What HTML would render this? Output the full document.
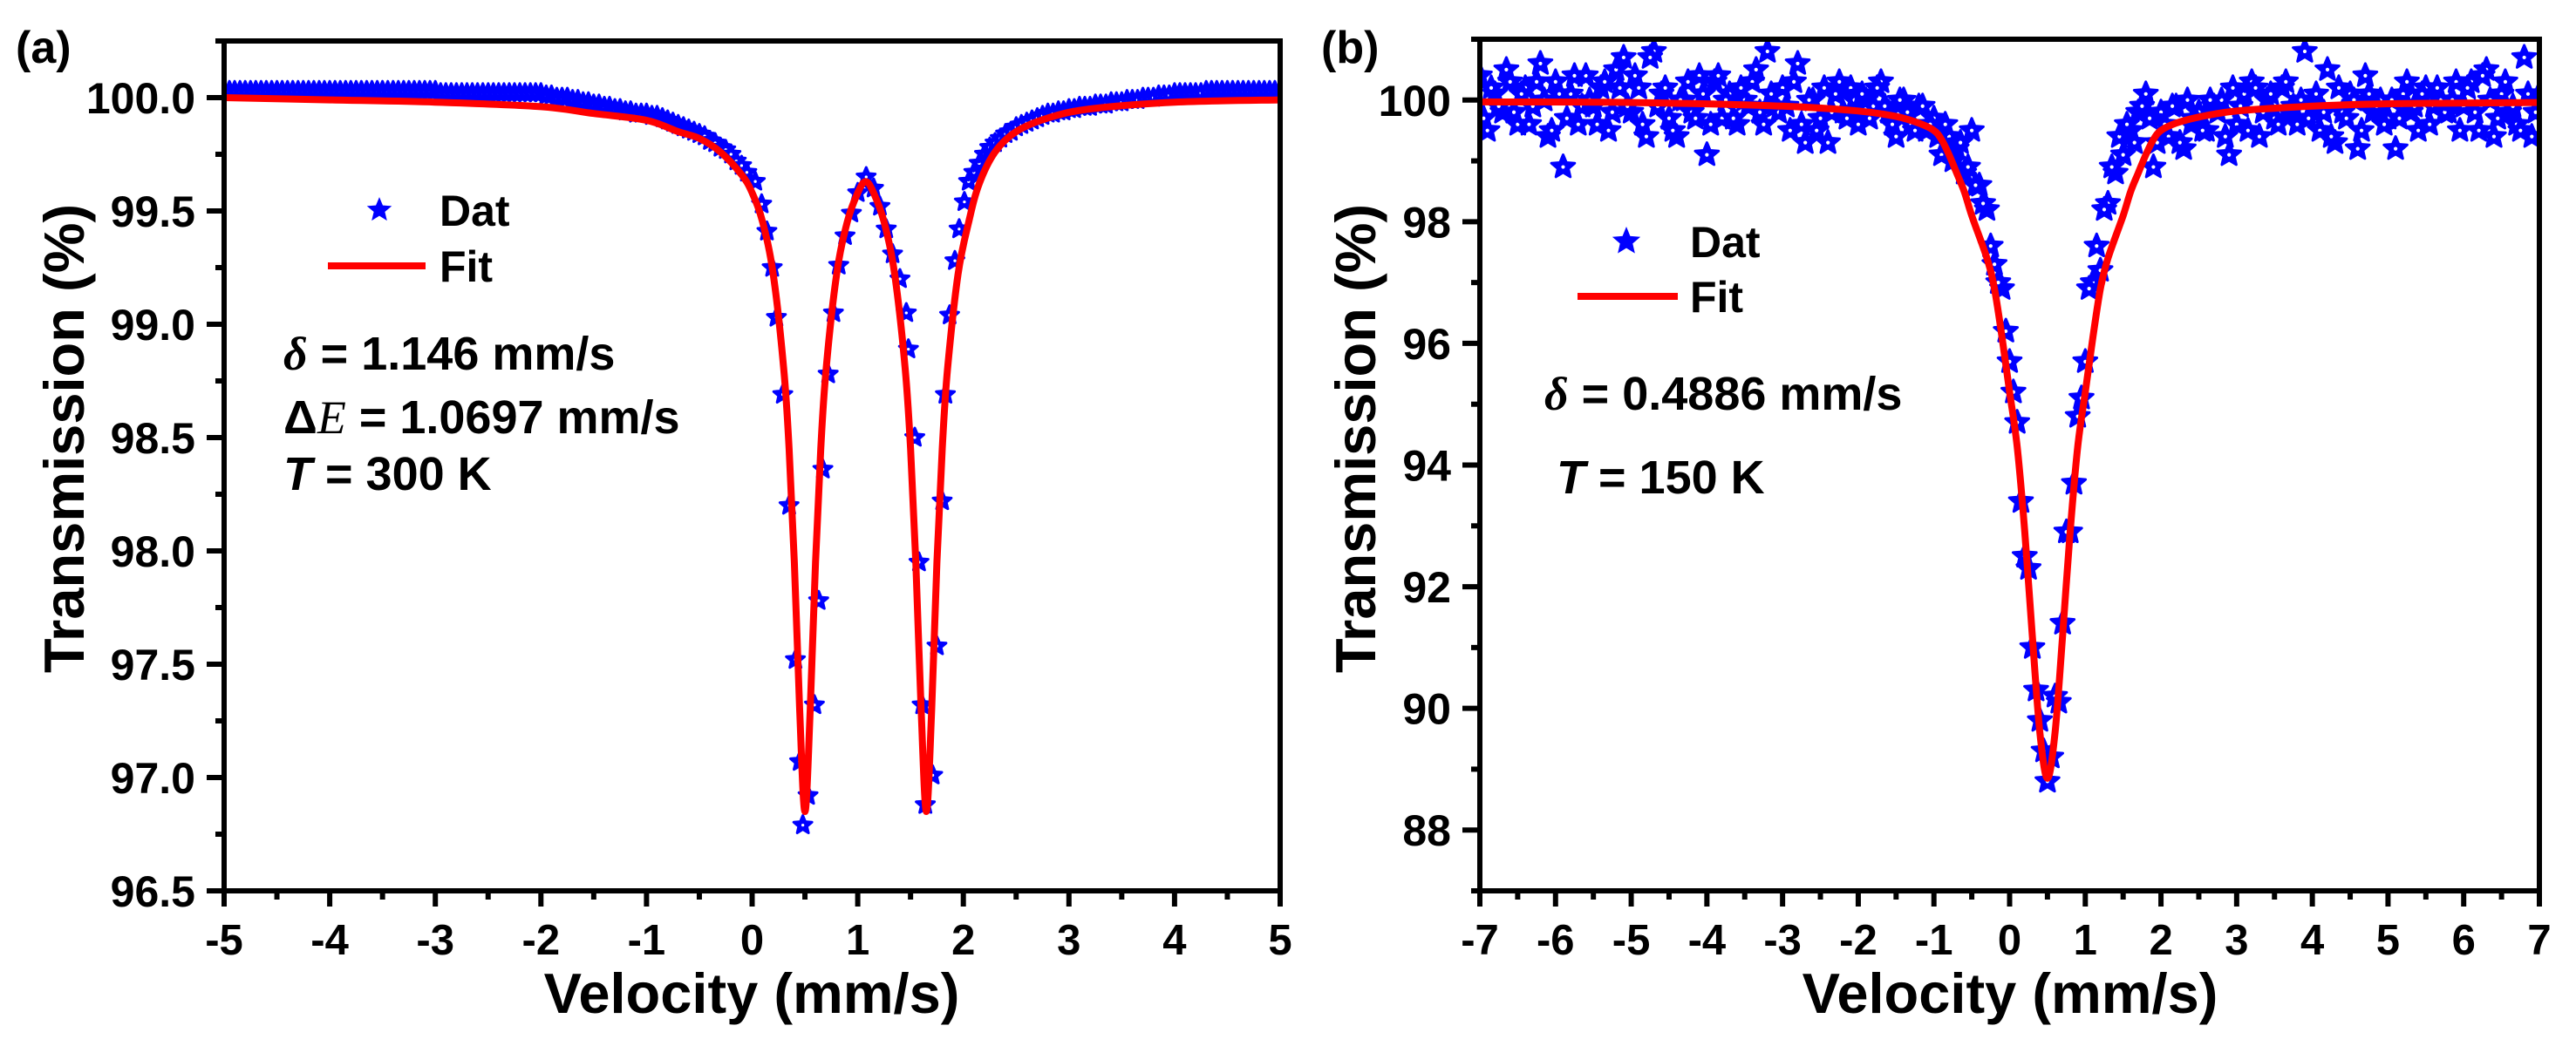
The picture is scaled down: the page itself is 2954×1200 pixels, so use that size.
<!DOCTYPE html>
<html><head><meta charset="utf-8"><style>
html,body{margin:0;padding:0;background:#fff;}
svg{display:block;font-family:"Liberation Sans",Arial,sans-serif;font-weight:bold;}
</style></head><body>
<svg id="chart" width="2954" height="1200" viewBox="0 0 2954 1200" xmlns="http://www.w3.org/2000/svg">
<rect width="2954" height="1200" fill="#fff"/>
<g id="pa"></g>
<g id="pb"></g>
</svg>
<script>
// ---------- Panel (a) data ----------
const aLeftTailT = [100.03,100.03,100.03,100.03,100.03,100.03,100.03,100.03,100.03,100.03,100.03,100.03,100.03,100.03,100.03,100.03,100.03,100.03,100.03,100.03,100.03,100.03,100.03,100.03,100.03,100.03,100.03,100.03,100.03,100.03,100.03,100.03,100.03,100.03,100.03,100.03,100.03,100.03,100.03,100.03,100.03,
 100.02,100.02,100.02,100.02,100.02,100.02,100.02,100.02,100.02,100.02,100.02,100.02,100.02,100.02,100.02,100.02,100.02,100.02,100.02,100.02,
 100.01,100.01,100.0,100.0,100.0,99.99,99.99,99.98,99.98,99.97,99.97,99.96,99.96,99.95,99.95,99.94,99.94,99.93,99.93,99.93,
 99.92,99.92,99.91,99.90,99.89,99.88,99.87,99.86,99.85,99.84,99.83,99.81,99.80,99.78,99.77,99.75,99.72,99.70,99.67];
const aDipV = [0.03,0.09,0.14,0.19,0.23,0.29,0.35,0.41,0.45,0.48,0.53,0.59,0.63,0.67,0.72,0.77,0.82,0.88,0.94,1.0,1.08,1.15,1.21,1.27,1.33,1.40,1.46,1.48,1.54,1.58,1.61,1.64,1.71,1.75,1.80,1.83,1.87,1.92,1.96,2.01,2.05];
const aDipT = [99.63,99.53,99.41,99.25,99.03,98.69,98.20,97.52,97.07,96.79,96.92,97.32,97.78,98.36,98.78,99.05,99.26,99.39,99.49,99.58,99.65,99.60,99.52,99.42,99.31,99.20,99.05,98.89,98.50,97.95,97.32,96.88,97.01,97.58,98.22,98.69,99.04,99.28,99.42,99.54,99.63];
const aRightTailT = [99.67,99.71,99.75,99.78,99.80,99.82,99.84,99.85,99.87,99.88,99.89,99.90,99.91,99.92,99.93,99.93,99.94,99.94,99.95,
 99.95,99.96,99.96,99.96,99.97,99.97,99.97,99.98,99.98,99.98,
 99.99,99.99,99.99,100.0,100.0,100.0,100.01,100.01,100.01,100.02,
 100.02,100.02,100.02,100.02,100.02,100.03,100.03,100.03,100.03,100.03,100.03,100.03,100.03,100.03,100.03,100.03,100.03,100.03,100.03,100.03,100.03];
const aDatV = [], aDatT = [];
aLeftTailT.forEach((t, i) => { aDatV.push(-5 + i*0.05); aDatT.push(t); });
aDipV.forEach((v, i) => { aDatV.push(v); aDatT.push(aDipT[i]); });
aRightTailT.forEach((t, i) => { aDatV.push(2.1 + i*0.05); aDatT.push(t); });

const aFitV = [-5,-4,-3,-2,-1.5,-1,-0.7,-0.5,-0.3,-0.1,0,0.1,0.2,0.3,0.35,0.4,0.45,0.5,0.55,0.6,0.65,0.7,0.8,0.9,1.0,1.075,1.15,1.25,1.35,1.45,1.5,1.55,1.6,1.65,1.7,1.75,1.8,1.85,1.95,2.05,2.15,2.3,2.5,2.8,3.2,4,5];
const aFitT = [100.0,99.99,99.98,99.96,99.93,99.90,99.85,99.82,99.76,99.66,99.58,99.45,99.22,98.80,98.45,97.95,97.30,96.85,97.30,97.95,98.45,98.80,99.22,99.45,99.58,99.63,99.58,99.45,99.22,98.80,98.45,97.95,97.30,96.85,97.30,97.95,98.45,98.80,99.22,99.45,99.62,99.76,99.85,99.91,99.95,99.98,99.99];
const aXTicks = [-5,-4,-3,-2,-1,0,1,2,3,4,5];
const aXTickLabels = ["-5","-4","-3","-2","-1","0","1","2","3","4","5"];
const aYTicks = [96.5,97.0,97.5,98.0,98.5,99.0,99.5,100.0];
const aYTickLabels = ["96.5","97.0","97.5","98.0","98.5","99.0","99.5","100.0"];

// ---------- Panel (b) data ----------
const bDatT1 = [100.4,99.5,100.1,99.8,100.3,99.6,100.2,99.9,100.6,99.4,
 100.3,98.9,100.1,99.6,100.4,99.9,100.2,99.5,100.5,100.7,
 99.8,100.2,99.4,100.8,100.1,99.7,99.4,100.0,99.8,100.4,
 99.1,100.3,99.7,100.1,99.6,100.0,100.3,99.8,100.8,99.9,
 100.2,99.5,100.6,99.3,100.0,99.7,99.3,100.1,99.8,100.2,
 99.6,100.0,99.9,100.3,99.8,99.4,100.0,99.6,99.9,99.5,
 99.7,99.1,99.4,99.2,98.8,99.5,98.6,98.2,97.3,96.9,
 95.7,94.7,92.5,91.0,89.8,88.8,90.2,91.4,92.9,94.8,
 95.7,97.0,97.2,98.3,98.8,99.1,99.5,99.8,100.1,98.9,
 99.8,99.4,99.9,99.2,99.6,99.8,99.5,99.9,100.0,99.1,
 99.6,100.1,100.3,99.4,100.0,99.7,100.2,99.8,99.6,100.8,
 99.9,99.5,100.5,99.3,99.8,100.1,99.2,100.4,99.8,100.0,
 99.7,99.2,100.1,99.8,99.5,100.2,99.9,100.0,99.8,100.3,
 99.9,100.3,99.5,100.5,99.4,100.1,99.8,99.6,100.7,99.4,
 100.1];
const bDatT2 = [99.7,100.2,99.9,100.5,99.8,100.1,99.6,100.3,100.0,99.5,
 100.1,99.7,100.4,99.9,100.0,99.6,100.3,99.8,100.2,99.9,
 100.4,99.6,100.7,99.9,100.2,99.5,100.0,100.3,99.7,100.1,
 99.6,100.4,100.0,99.7,100.2,99.9,100.5,99.6,100.1,99.8,
 99.9,100.3,99.6,100.0,99.5,100.2,99.8,100.3,99.7,100.0,
 100.1,99.7,100.2,99.9,99.6,100.0,99.8,99.5,99.9,99.6,
 99.4,99.6,99.0,99.3,98.9,98.6,98.3,97.6,97.0,96.2,
 95.2,93.4,92.3,90.3,89.3,89.2,90.1,92.9,93.7,95.1,
 96.9,97.6,98.2,98.9,99.4,99.6,99.3,99.9,99.7,99.3,
 99.6,99.9,99.3,100.0,99.7,99.5,100.0,99.8,99.4,100.2,
 99.9,99.5,100.2,99.8,100.1,99.6,100.3,99.9,100.0,99.7,
 100.1,99.8,99.4,100.2,99.7,100.0,99.5,100.1,99.9,99.6,
 100.0,99.7,100.3,99.9,100.1,99.6,100.2,99.8,100.0,99.5,
 100.2,99.8,100.4,100.0,99.7,100.3,99.9,99.5,100.1,99.8];
const bDatV = [], bDatT = [];
bDatT1.forEach((t, i) => { bDatV.push(-7 + i*0.1); bDatT.push(t); });
bDatT2.forEach((t, i) => { bDatV.push(-6.95 + i*0.1); bDatT.push(t); });

const bFitV = [-7,-5,-3,-2,-1.5,-1.2,-1,-0.9,-0.8,-0.7,-0.6,-0.5,-0.3,-0.2,-0.1,0,0.1,0.2,0.3,0.4,0.5,0.6,0.7,0.8,0.9,1.0,1.1,1.2,1.3,1.5,1.6,1.7,1.8,1.9,2.0,2.2,2.5,3,4,5,7];
const bFitT = [99.97,99.96,99.9,99.82,99.73,99.62,99.5,99.35,99.1,98.8,98.5,98.1,97.4,96.9,96.1,95.2,94.3,92.9,91.2,89.6,88.85,89.6,91.2,92.9,94.3,95.2,96.1,96.9,97.4,98.1,98.5,98.8,99.1,99.35,99.5,99.62,99.72,99.82,99.9,99.94,99.96];
const bXTicks = [-7,-6,-5,-4,-3,-2,-1,0,1,2,3,4,5,6,7];
const bXTickLabels = ["-7","-6","-5","-4","-3","-2","-1","0","1","2","3","4","5","6","7"];
const bYTicks = [88,90,92,94,96,98,100];
const bYTickLabels = ["88","90","92","94","96","98","100"];

const NS = "http://www.w3.org/2000/svg";
function mk(tag, attrs, parent) {
  const e = document.createElementNS(NS, tag);
  for (const k in attrs) e.setAttribute(k, attrs[k]);
  parent.appendChild(e);
  return e;
}
function starPath(cx, cy, R) {
  const r = R*0.45; let d = "";
  for (let i = 0; i < 10; i++) {
    const rad = i%2 ? r : R;
    const a = -Math.PI/2 + i*Math.PI/5;
    d += (i ? "L" : "M") + (cx + rad*Math.cos(a)).toFixed(1) + "," + (cy + rad*Math.sin(a)).toFixed(1);
  }
  return d + "Z";
}
function smoothPath(pts) {
  let d = "M" + pts[0][0].toFixed(1) + "," + pts[0][1].toFixed(1);
  for (let i = 0; i < pts.length - 1; i++) {
    const p0 = pts[Math.max(0, i-1)], p1 = pts[i], p2 = pts[i+1], p3 = pts[Math.min(pts.length-1, i+2)];
    const c1x = p1[0] + (p2[0]-p0[0])/6, c1y = p1[1] + (p2[1]-p0[1])/6;
    const c2x = p2[0] - (p3[0]-p1[0])/6, c2y = p2[1] - (p3[1]-p1[1])/6;
    d += "C" + c1x.toFixed(1) + "," + c1y.toFixed(1) + " " + c2x.toFixed(1) + "," + c2y.toFixed(1) + " " + p2[0].toFixed(1) + "," + p2[1].toFixed(1);
  }
  return d;
}

function drawPanel(g, cfg) {
  const X = v => cfg.L + (v - cfg.xmin) / (cfg.xmax - cfg.xmin) * (cfg.R - cfg.L);
  const Y = t => cfg.B - (t - cfg.ymin) / (cfg.ymax - cfg.ymin) * (cfg.B - cfg.T);
  const cid = "clip-" + cfg.id;
  const cp = mk("clipPath", {id: cid}, g);
  mk("rect", {x: cfg.L, y: cfg.T, width: cfg.R - cfg.L, height: cfg.B - cfg.T}, cp);
  const plot = mk("g", {"clip-path": "url(#" + cid + ")"}, g);
  
  
  const ds = mk("g", {}, plot);
  
  
  for (let i = 0; i < cfg.dv.length; i++) {
    const s = mk("path", {d: starPath(X(cfg.dv[i]), Y(cfg.dt[i]), cfg.starR), fill: "#0000ff", stroke: "#0000ff", "stroke-width": 3, "stroke-linejoin": "round"}, ds);
    
    
    mk("circle", {cx: X(cfg.dv[i]), cy: Y(cfg.dt[i]), r: cfg.starR*0.15, fill: "#fff"}, ds);
  }
  const pts = cfg.fv.map((v, i) => [X(v), Y(cfg.ft[i])]);
  const fit = mk("path", {d: smoothPath(pts), fill: "none", stroke: "#ff0000", "stroke-width": 8, "stroke-linejoin": "round"}, plot);
  
  
  const fr = mk("rect", {x: cfg.L, y: cfg.T, width: cfg.R - cfg.L, height: cfg.B - cfg.T, fill: "none", stroke: "#000", "stroke-width": 6}, g);
  
  
  const xa = mk("g", {}, g);
  
  
  for (let v = cfg.xmin; v <= cfg.xmax + 1e-9; v += 0.5) {
    const major = Math.abs(v - Math.round(v)) < 1e-9;
    mk("line", {x1: X(v), x2: X(v), y1: cfg.B, y2: cfg.B + (major ? 18 : 10), stroke: "#000", "stroke-width": 6}, xa);
  }
  cfg.xt.forEach((v, i) => {
    const t = mk("text", {x: X(v), y: cfg.B + 73, "text-anchor": "middle", "font-size": 49}, xa);
    t.textContent = cfg.xl[i];
    
    
  });
  const ya = mk("g", {}, g);
  
  
  for (let t = cfg.ymin; t <= cfg.ymax + 1e-9; t += cfg.yminor) {
    const major = cfg.yt.some(m => Math.abs(m - t) < 1e-6);
    mk("line", {x1: cfg.L, x2: cfg.L - (major ? 20 : 10), y1: Y(t), y2: Y(t), stroke: "#000", "stroke-width": 6}, ya);
  }
  cfg.yt.forEach((v, i) => {
    const t = mk("text", {x: cfg.L - 33, y: Y(v) + 18, "text-anchor": "end", "font-size": 50}, ya);
    t.textContent = cfg.yl[i];
    
    
  });
}

drawPanel(document.getElementById("pa"), {id: "a", L: 257, R: 1468, T: 47, B: 1022, xmin: -5, xmax: 5, ymin: 96.5, ymax: 100.25, yminor: 0.25,
  dv: aDatV, dt: aDatT, fv: aFitV, ft: aFitT, starR: 11, xt: aXTicks, xl: aXTickLabels, yt: aYTicks, yl: aYTickLabels});
drawPanel(document.getElementById("pb"), {id: "b", L: 1697, R: 2912, T: 45, B: 1022, xmin: -7, xmax: 7, ymin: 87, ymax: 101, yminor: 1,
  dv: bDatV, dt: bDatT, fv: bFitV, ft: bFitT, starR: 14, xt: bXTicks, xl: bXTickLabels, yt: bYTicks, yl: bYTickLabels});
</script>
<script>
(function(){
  const svg = document.getElementById("chart");
  function star(cx, cy, R){let d="";for(let i=0;i<10;i++){const r=i%2?R*0.45:R;const a=-Math.PI/2+i*Math.PI/5;d+=(i?"L":"M")+(cx+r*Math.cos(a)).toFixed(1)+","+(cy+r*Math.sin(a)).toFixed(1);}return d+"Z";}
  svg.insertAdjacentHTML("beforeend", `
  <text x="18" y="72" font-size="52">(a)</text>
  <text x="1515" y="72" font-size="52">(b)</text>
  <text transform="translate(96,503) rotate(-90)" text-anchor="middle" font-size="65">Transmission (%)</text>
  <text transform="translate(1577,503) rotate(-90)" text-anchor="middle" font-size="65">Transmission (%)</text>
  <text x="862" y="1162" text-anchor="middle" font-size="65">Velocity (mm/s)</text>
  <text x="2305" y="1162" text-anchor="middle" font-size="65">Velocity (mm/s)</text>
  <g>
    <path d="${star(435,241,11)}" fill="#00f" stroke="#00f" stroke-width="3"/>
    <text x="504" y="259" font-size="50">Dat</text>
    <line x1="376" x2="488" y1="305" y2="305" stroke="#f00" stroke-width="8"/>
    <text x="504" y="323" font-size="50">Fit</text>
  </g>
  <g>
    <text x="325" y="424" font-size="54"><tspan font-family="Liberation Serif, serif" font-style="italic">δ</tspan> = 1.146 mm/s</text>
    <text x="325" y="497" font-size="54">Δ<tspan font-family="Liberation Serif, serif" font-style="italic" font-weight="normal">E</tspan> = 1.0697 mm/s</text>
    <text x="325" y="562" font-size="54"><tspan font-style="italic">T</tspan> = 300 K</text>
  </g>
  <g>
    <path d="${star(1865,277,13)}" fill="#00f" stroke="#00f" stroke-width="3"/>
    <text x="1938" y="295" font-size="50">Dat</text>
    <line x1="1809" x2="1924" y1="340" y2="340" stroke="#f00" stroke-width="8"/>
    <text x="1938" y="358" font-size="50">Fit</text>
  </g>
  <g>
    <text x="1771" y="470" font-size="54"><tspan font-family="Liberation Serif, serif" font-style="italic">δ</tspan> = 0.4886 mm/s</text>
    <text x="1785" y="566" font-size="54"><tspan font-style="italic">T</tspan> = 150 K</text>
  </g>`);
})();
</script>
</body></html>
